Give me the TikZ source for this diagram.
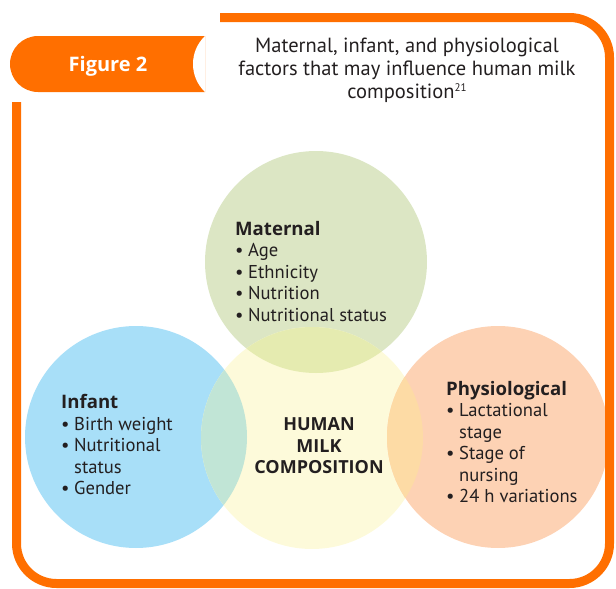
\documentclass[tikz,border=0pt]{standalone}
\usepackage{fontspec}
\setmainfont{PT Sans}
\newfontfamily\headfont{Open Sans}
\definecolor{frameorange}{HTML}{FF6F00}
\definecolor{titlegray}{HTML}{231F20}
\definecolor{matgreen}{HTML}{DCE6C4}
\definecolor{infblue}{HTML}{A8DFF8}
\definecolor{milkyellow}{HTML}{FDFADA}
\definecolor{phypeach}{HTML}{FDD2B4}
\definecolor{blueyellow}{HTML}{C1E5D6}
\definecolor{greenyellow}{HTML}{E5EBB0}
\definecolor{peachyellow}{HTML}{FDDBA5}
\newcommand{\bul}{\makebox[13pt][l]{\textbullet}}
\newcommand{\hang}{\hspace*{13pt}}
\newcommand{\head}[1]{{\headfont\bfseries #1}}

\begin{document}
\begin{tikzpicture}[x=1pt,y=-1pt,
  blob/.style={circle,minimum size=222pt,inner sep=0pt},
  listtext/.style={anchor=north west,align=left,inner sep=0pt,text=titlegray,font=\fontsize{18.6}{21.5}\selectfont}]
\useasboundingbox (0,0) rectangle (616,589);

% the four circles
\node at (316,262) [blob,fill=matgreen] (mat) {};
\node at (136,437) [blob,fill=infblue] (inf) {};
\node at (312,438) [blob,fill=milkyellow] (milk) {};
\node at (498,437) [blob,fill=phypeach] (phy) {};
\begin{scope}
  \clip (milk.center) circle (111pt);
  \fill[greenyellow] (mat.center) circle (111pt);
  \fill[blueyellow] (inf.center) circle (111pt);
  \fill[peachyellow] (phy.center) circle (111pt);
\end{scope}

% frame and tab
\draw[frameorange,line width=9pt,rounded corners=40pt] (220,17.5) -- (609.5,17.5) -- (609.5,583.5) -- (16.5,583.5) -- (16.5,102);
\begin{scope}
  \clip (10,36) rectangle (205,92);
  \fill[frameorange,rounded corners=28pt] (10,36) rectangle (260,92);
  \fill[white] (231.7,64) circle (38.7pt);
\end{scope}
\node at (108,66) [text=white,font=\headfont\bfseries\fontsize{20}{24}\selectfont] (fig) {Figure 2};
\node at (407,37.5) [anchor=north,align=center,inner sep=0pt,text=titlegray,font=\fontsize{20.5}{23.3}\selectfont] (title) {Maternal, infant, and physiological\\factors that may influence human milk\\composition{\fontsize{11}{12}\selectfont\raisebox{7pt}{21}}};

% texts
\node at (235,221) [listtext] (matlist) {\head{Maternal}\\\bul Age\\\bul Ethnicity\\\bul Nutrition\\\bul Nutritional status};
\node at (61,394.5) [listtext] (inflist) {\head{Infant}\\\bul Birth weight\\\bul Nutritional\\\hang status\\\bul Gender};
\node at (446,381) [listtext] (phylist) {\head{Physiological}\\\bul Lactational\\\hang stage\\\bul Stage of\\\hang nursing\\\bul 24 h variations};
\node at (319,446) [align=center,inner sep=0pt,text=titlegray,font=\headfont\bfseries\fontsize{18}{21.5}\selectfont] (milktext) {HUMAN\\MILK\\COMPOSITION};
\end{tikzpicture}
\end{document}
